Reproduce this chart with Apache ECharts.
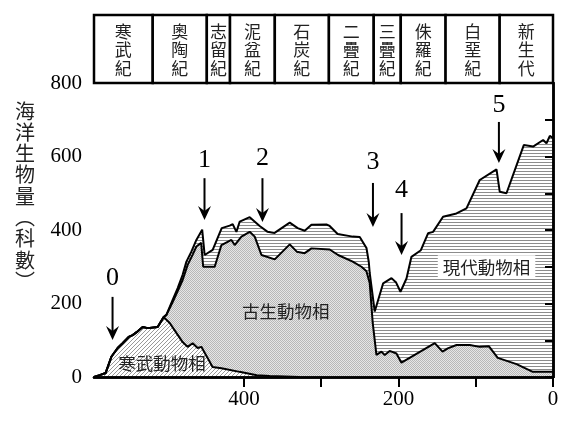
<!DOCTYPE html>
<html>
<head>
<meta charset="utf-8">
<script src="https://cdn.jsdelivr.net/npm/echarts@6/dist/echarts.min.js"></script>
<style>
  html, body { margin: 0; padding: 0; background: #fff; }
  #chart { width: 572px; height: 425px; }
</style>
</head>
<body>
<div id="chart"></div>
<script>
// ages in Ma (0 = today), values = number of marine families
// top boundary of the whole stack (modern fauna on top)
const totalTime = [594, 586.6, 578.9, 571.5, 563.4, 557, 549.1, 543.9, 538.8, 531, 524.6, 511.6, 503.8,
    500.3, 492.2, 485.7, 479.3, 474.4, 468, 461.5, 454, 450.8, 440.4, 431.3, 428.7, 418.4, 414.5, 409.7,
    405.4, 392.5, 379.6, 369.3, 360.3, 340.7, 330.4, 321.3, 312.6, 293.2, 289, 278.7, 259.2, 250.1, 241.4,
    238.4, 237.2, 230.7, 219.8, 209, 203, 197.4, 189.6, 183.2, 171, 161.7, 155.2, 142.3, 124.9, 112, 94.8,
    73.1, 68.9, 60.2, 37.8, 25.8, 12.8, 8.4, 4.1, 0];
const totalFamilies = [0, 5, 11, 55, 79, 92, 109, 114, 122, 136, 133, 136, 163,
    169, 210, 242, 278, 314, 341, 373, 401, 332, 346, 392, 405, 412, 416, 395,
    423, 435, 411, 395, 392, 420, 405, 398, 414, 415, 411, 389, 382, 381, 351,
    313, 283, 178, 255, 269, 257, 232, 268, 327, 345, 391, 395, 436, 445, 459, 536,
    565, 504, 500, 631, 627, 645, 636, 656, 650];

// top of cambrian + paleozoic faunas
const paleozoicTime = [594, 586.6, 578.9, 571.5, 563.4, 557, 549.1, 543.9, 538.8, 531, 524.6, 511.6, 503.8,
    500.3, 492.2, 485.7, 479.3, 472.8, 466.3, 461.5, 455.3, 452.7, 437.8, 429.1, 416.2, 411.9, 403.2, 392.5,
    386, 377.3, 360.1, 340.7, 331.6, 321.3, 312.6, 289, 278.2, 259.2, 247.9, 241.4, 237.2, 233.3, 228.5,
    226.8, 222, 217.7, 211.4, 202.6, 196.1, 153, 143, 136.2, 124.9, 107.7, 94.8, 83.1, 71.5, 47.2, 26.1, 0];
const paleozoicFamilies = [0, 5, 11, 55, 79, 92, 109, 114, 122, 136, 133, 136, 163,
    169, 204, 234, 264, 305, 333, 355, 365, 300, 300, 359, 373, 359, 382, 395,
    382, 332, 320, 361, 341, 337, 350, 347, 332, 314, 300, 288, 256, 147, 60,
    55, 69, 60, 71, 64, 39, 92, 69, 78, 87, 87, 82, 84, 52, 35, 14, 14];

// cambrian fauna
const cambrianTime = [594, 586.6, 578.9, 571.5, 563.4, 557, 549.1, 543.9, 538.8, 531, 524.6, 511.6, 503.8,
    496, 487.4, 479.3, 472.8, 466.3, 459.9, 455.1, 447, 440.6, 429, 405.7, 383.4, 366.6, 328];
const cambrianFamilies = [0, 5, 11, 55, 79, 92, 109, 114, 122, 136, 133, 136, 163,
    147, 120, 95, 82, 92, 79, 82, 52, 27, 24, 14, 5, 3, 0];

const periodNames = ['寒武紀', '奧陶紀', '志留紀', '泥盆紀', '石炭紀', '二疊紀', '三疊紀', '侏羅紀', '白堊紀', '新生代'];
const periodStart = [594, 518, 448, 418, 360, 290, 232, 197, 139, 69];
const periodEnd = [518, 448, 418, 360, 290, 232, 197, 139, 69, 0];

// extinction events: number label, arrow top and arrow tip
const eventLabels = ['0', '1', '2', '3', '4', '5'];
const eventTime = [570, 451, 376, 233, 196, 70];
const eventLabelY = [269, 590, 596, 585, 509, 740];
const eventArrowTop = [218, 541, 541, 528, 446, 694];
const eventArrowTip = [101, 427, 422, 408, 332, 582];

const faunaNames = ['寒武動物相', '古生動物相', '現代動物相'];
const faunaLabelTime = [506, 346, 86];
const faunaLabelY = [38, 180, 299];

const xLabelValues = [0, 200, 400];
const xTickValues = [0, 100, 200, 300, 400];
const yAxisTitle = ['海', '洋', '生', '物', '量', '︵', '科', '數', '︶'];

const CJK = 'Noto Sans CJK TC';
const SERIF = 'Liberation Serif';

function makePattern(w, h, draw) {
    const c = document.createElement('canvas');
    c.width = w;
    c.height = h;
    const ctx = c.getContext('2d');
    ctx.fillStyle = '#fff';
    ctx.fillRect(0, 0, w, h);
    draw(ctx);
    return { image: c, repeat: 'repeat' };
}

const linesPattern = makePattern(4, 3, ctx => {
    ctx.fillStyle = '#8c8c8c';
    ctx.fillRect(0, 0, 4, 1);
});
const dotsPattern = makePattern(2, 2, ctx => {
    ctx.fillStyle = '#e6e6e6';
    ctx.fillRect(0, 0, 2, 2);
    ctx.fillStyle = '#b8b8b8';
    ctx.fillRect(0, 0, 1, 1);
    ctx.fillRect(1, 1, 1, 1);
});
const hatchPattern = makePattern(4, 4, ctx => {
    ctx.fillStyle = '#999';
    for (let i = 0; i < 4; i++) ctx.fillRect(3 - i, i, 1, 1);
});

const pairs = (t, v) => t.map((x, i) => [x, v[i]]);

function areaSeries(data, pattern, z) {
    return {
        type: 'line', data: data, symbol: 'none', silent: true, z: z,
        lineStyle: { opacity: 0 },
        areaStyle: { color: pattern, opacity: 1 }
    };
}
function lineSeries(data) {
    return {
        type: 'line', data: data, symbol: 'none', silent: true, z: 10,
        lineStyle: { color: '#000', width: 2 }
    };
}

// y axis title, one glyph per line
const titleGraphics = yAxisTitle.map((ch, i) => ({
    type: 'text', x: 25, y: 111 + i * 21.3,
    style: {
        text: ch, fill: '#222', fontFamily: CJK, fontSize: 20,
        align: 'center', verticalAlign: 'middle'
    }
}));

const chart = echarts.init(document.getElementById('chart'));

const option = {
    animation: false,
    backgroundColor: '#fff',
    grid: [
        { left: 94, right: 19, top: 83, bottom: 48 },
        { left: 94, right: 19, top: 15, height: 68 }
    ],
    xAxis: [
        {
            type: 'value', gridIndex: 0, min: 0, max: 594, inverse: true, z: 12,
            axisLine: { lineStyle: { color: '#000', width: 2.5 } },
            axisTick: { customValues: xTickValues, length: 10, lineStyle: { color: '#000', width: 2 } },
            axisLabel: { customValues: xLabelValues, margin: 12, color: '#000', fontFamily: SERIF, fontSize: 21 },
            splitLine: { show: false }
        },
        {
            type: 'value', gridIndex: 0, min: 0, max: 594, inverse: true, position: 'top', z: 12,
            axisLine: { lineStyle: { color: '#000', width: 2.5 } },
            axisTick: { show: false }, axisLabel: { show: false }, splitLine: { show: false }
        },
        { type: 'value', gridIndex: 1, min: 0, max: 594, inverse: true, show: false }
    ],
    yAxis: [
        {
            type: 'value', gridIndex: 0, min: 0, max: 800, interval: 100, z: 12,
            axisLine: { show: true, lineStyle: { color: '#000', width: 2.5 } },
            axisTick: { show: true, length: 8, lineStyle: { color: '#000', width: 2 } },
            axisLabel: {
                margin: 12, color: '#000', fontFamily: SERIF, fontSize: 21,
                formatter: v => (v % 200 === 0 ? String(v) : '')
            },
            splitLine: { show: false }
        },
        {
            type: 'value', gridIndex: 0, min: 0, max: 800, position: 'right', z: 12,
            axisLine: { show: true, lineStyle: { color: '#000', width: 2.5 } },
            axisTick: { show: false }, axisLabel: { show: false }, splitLine: { show: false }
        },
        { type: 'value', gridIndex: 1, min: 0, max: 1, show: false }
    ],
    graphic: titleGraphics,
    series: [
        areaSeries(pairs(totalTime, totalFamilies), linesPattern, 2),
        areaSeries(pairs(paleozoicTime, paleozoicFamilies), dotsPattern, 3),
        areaSeries(pairs(cambrianTime, cambrianFamilies), hatchPattern, 4),
        lineSeries(pairs(totalTime, totalFamilies)),
        lineSeries(pairs(paleozoicTime, paleozoicFamilies)),
        lineSeries(pairs(cambrianTime, cambrianFamilies)),
        {
            // geological period boxes
            type: 'custom', xAxisIndex: 2, yAxisIndex: 2, silent: true, z: 15,
            data: periodStart.map((s, i) => [s, periodEnd[i]]),
            encode: { x: [0, 1] },
            renderItem: (params, api) => {
                const a = api.coord([api.value(0), 1]);
                const b = api.coord([api.value(1), 0]);
                return {
                    type: 'group',
                    children: [
                        {
                            type: 'rect',
                            shape: { x: a[0], y: a[1], width: b[0] - a[0], height: b[1] - a[1] },
                            style: { fill: '#fff', stroke: '#000', lineWidth: 2.5 }
                        },
                        {
                            type: 'text', x: (a[0] + b[0]) / 2, y: (a[1] + b[1]) / 2 + 1,
                            style: {
                                text: periodNames[params.dataIndex].split('').join('\n'),
                                fill: '#222', fontFamily: CJK, fontSize: 17, lineHeight: 18.5,
                                align: 'center', verticalAlign: 'middle'
                            }
                        }
                    ]
                };
            }
        },
        {
            // extinction arrows
            type: 'custom', silent: true, z: 20,
            data: eventTime.map((t, i) => [t, eventArrowTip[i]]),
            encode: { x: 0, y: 1 },
            renderItem: (params, api) => {
                const i = params.dataIndex;
                const top = api.coord([eventTime[i], eventArrowTop[i]]);
                const tip = api.coord([eventTime[i], eventArrowTip[i]]);
                const lab = api.coord([eventTime[i], eventLabelY[i]]);
                const x = tip[0], y = tip[1];
                return {
                    type: 'group',
                    children: [
                        {
                            type: 'line',
                            shape: { x1: top[0], y1: top[1], x2: x, y2: y - 6 },
                            style: { stroke: '#000', lineWidth: 2 }
                        },
                        {
                            type: 'polygon',
                            shape: { points: [[x, y], [x - 6.5, y - 14], [x, y - 9], [x + 6.5, y - 14]] },
                            style: { fill: '#000' }
                        },
                        {
                            type: 'text', x: lab[0], y: lab[1],
                            style: {
                                text: eventLabels[i], fill: '#000', fontFamily: SERIF, fontSize: 26,
                                align: 'center', verticalAlign: 'middle'
                            }
                        }
                    ]
                };
            }
        },
        {
            // fauna names
            type: 'custom', silent: true, z: 20,
            data: faunaLabelTime.map((t, i) => [t, faunaLabelY[i]]),
            encode: { x: 0, y: 1 },
            renderItem: (params, api) => {
                const p = api.coord([api.value(0), api.value(1)]);
                const last = params.dataIndex === 2;
                return {
                    type: 'text', x: p[0], y: p[1],
                    style: {
                        text: faunaNames[params.dataIndex], fill: '#222', fontFamily: CJK, fontSize: 17.5,
                        align: 'center', verticalAlign: 'middle',
                        backgroundColor: last ? '#fff' : null,
                        padding: last ? [3, 5] : 0
                    }
                };
            }
        }
    ]
};

chart.setOption(option);
</script>
</body>
</html>
